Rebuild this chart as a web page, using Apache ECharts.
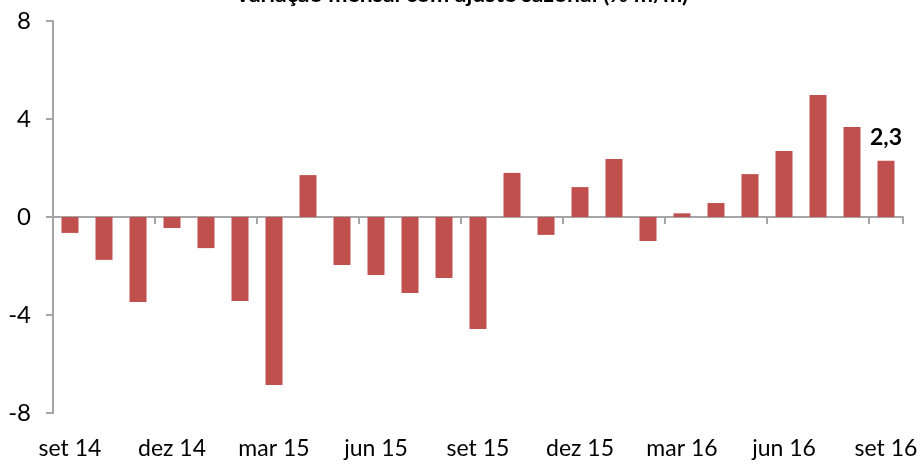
<!DOCTYPE html>
<html>
<head>
<meta charset="utf-8">
<script src="https://cdn.jsdelivr.net/npm/echarts@6/dist/echarts.min.js"></script>
<style>
  html, body { margin: 0; padding: 0; background: #fff; }
  #chart { width: 923px; height: 465px; }
</style>
</head>
<body>
<div id="chart"></div>
<script>
// meses (set 14 .. set 16)
var categories = ['set 14', 'out 14', 'nov 14', 'dez 14', 'jan 15', 'fev 15', 'mar 15', 'abr 15',
  'mai 15', 'jun 15', 'jul 15', 'ago 15', 'set 15', 'out 15', 'nov 15', 'dez 15', 'jan 16',
  'fev 16', 'mar 16', 'abr 16', 'mai 16', 'jun 16', 'jul 16', 'ago 16', 'set 16']
// variação mensal com ajuste sazonal (% m/m)
var values = [-0.65, -1.75, -3.47, -0.45, -1.27, -3.43, -6.86, 1.71, -1.96, -2.37, -3.1, -2.49,
  -4.57, 1.8, -0.73, 1.22, 2.37, -0.98, 0.15, 0.57, 1.75, 2.69, 4.98, 3.67, 2.3]
var yTicks = [-8, -4, 0, 4, 8]
var titleText = 'Variação mensal com ajuste sazonal (% m/m)'

var font = 'Lato, "Open Sans", sans-serif'
var lastIdx = values.length - 1

var option = {
  animation: false,
  title: {
    text: titleText,
    left: 'center',
    top: -22,
    textStyle: { fontFamily: font, fontSize: 23, fontWeight: 'bold', color: '#000' }
  },
  grid: { left: 53, right: 20, top: 21, bottom: 52, containLabel: false },
  xAxis: [
    { // linha no zero com marcas a cada trimestre
      type: 'category',
      data: categories,
      axisLine: { onZero: true, lineStyle: { color: '#a6a6a6', width: 2 } },
      axisTick: { show: true, interval: 2, length: 7, lineStyle: { color: '#a6a6a6', width: 2 } },
      axisLabel: { show: false }
    },
    { // rótulos na base
      type: 'category',
      data: categories,
      position: 'bottom',
      axisLine: { show: false, onZero: false },
      axisTick: { show: false },
      axisLabel: { interval: 2, margin: 24, color: '#000', fontFamily: font, fontSize: 23 }
    }
  ],
  yAxis: {
    type: 'value',
    min: yTicks[0],
    max: yTicks[yTicks.length - 1],
    interval: 4,
    splitLine: { show: false },
    axisLine: { show: true, lineStyle: { color: '#a6a6a6', width: 2 } },
    axisTick: { show: true, length: 7, lineStyle: { color: '#a6a6a6', width: 2 } },
    axisLabel: { margin: 22, color: '#000', fontFamily: font, fontSize: 24 }
  },
  series: [{
    type: 'bar',
    xAxisIndex: 0,
    barWidth: '50%',
    itemStyle: { color: '#c0504d' },
    data: values.map(function (v, i) {
      if (i !== lastIdx) return v
      return {
        value: v,
        label: {
          show: true,
          position: 'top',
          distance: 12,
          formatter: function (p) { return String(p.value).replace('.', ',') },
          fontFamily: font, fontSize: 23, fontWeight: 'bold', color: '#000'
        }
      }
    })
  }]
}

var chartObj = echarts.init(document.getElementById('chart'))
chartObj.setOption(option)
</script>
</body>
</html>
